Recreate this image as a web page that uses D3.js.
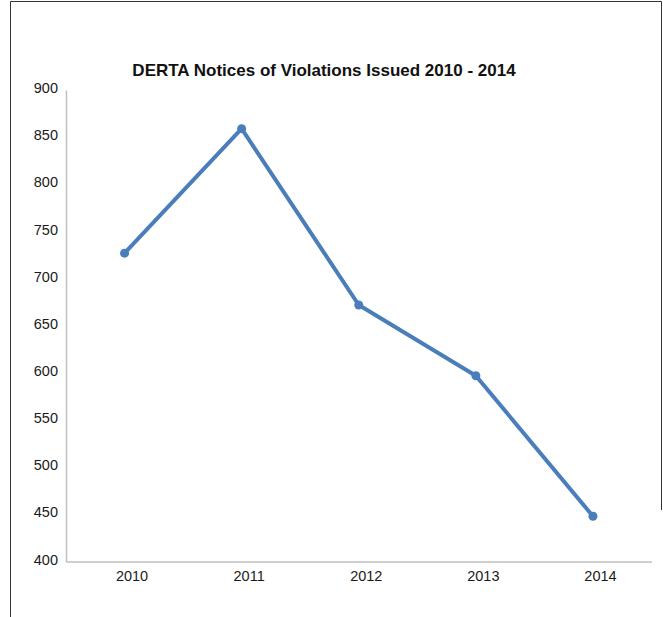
<!DOCTYPE html>
<html><head><meta charset="utf-8">
<script src="https://cdn.jsdelivr.net/npm/d3@7"></script>
<style>
body{margin:0;background:#fff;}
svg{display:block;font-family:"Liberation Sans",Arial,Helvetica,sans-serif;}
</style></head>
<body><svg id="c" width="663" height="617"></svg>
<script>
const title = "DERTA Notices of Violations Issued 2010 - 2014";
const years = ["2010","2011","2012","2013","2014"];
const violations = [727, 859, 672, 597, 448];
const yTicks = [400,450,500,550,600,650,700,750,800,850,900];

const svg = d3.select("#c");
// frame
svg.append("path").attr("d","M10.5,617 V1.5 H661.5 V510")
  .attr("fill","none").attr("stroke","#333").attr("stroke-width",1);

const x = d3.scaleBand().domain(years).range([66,651.5]).padding(0);
const y = d3.scaleLinear().domain([400,900]).range([561.5,90]);

// axes
const yAxis = d3.axisLeft(y).tickValues(yTicks).tickSize(0).tickPadding(8);
const gy = svg.append("g").attr("transform","translate(66,0)").call(yAxis);
gy.select(".domain").attr("stroke","#bfbfbf").attr("stroke-width",1.5);
gy.selectAll("text").attr("font-size","14.5px").attr("fill","#1a1a1a").attr("dy","0.32em")
  .attr("transform","translate(0,-2)").style("font-family","inherit");

const xAxis = d3.axisBottom(x).tickSize(0).tickPadding(9);
const gx = svg.append("g").attr("transform","translate(0,561.5)").call(xAxis);
gx.select(".domain").attr("stroke","#bfbfbf").attr("stroke-width",1.5);
gx.selectAll("text").attr("font-size","14.5px").attr("fill","#1a1a1a")
  .attr("transform","translate(7.5,0)").style("font-family","inherit");

// title
svg.append("text").attr("x",324).attr("y",76).attr("text-anchor","middle")
  .attr("font-weight","bold").attr("font-size","17px").attr("fill","#111").text(title);

// line
const cx = d => x(d) + x.bandwidth()/2;
const line = d3.line().x((d,i)=>cx(years[i])).y(d=>y(d));
svg.append("path").datum(violations).attr("d",line)
  .attr("fill","none").attr("stroke","#4a7ebb").attr("stroke-width",4)
  .attr("stroke-linejoin","round");
svg.selectAll("circle.pt").data(violations).enter().append("circle")
  .attr("class","pt").attr("cx",(d,i)=>cx(years[i])).attr("cy",d=>y(d))
  .attr("r",4.5).attr("fill","#4a7ebb");
</script></body></html>
